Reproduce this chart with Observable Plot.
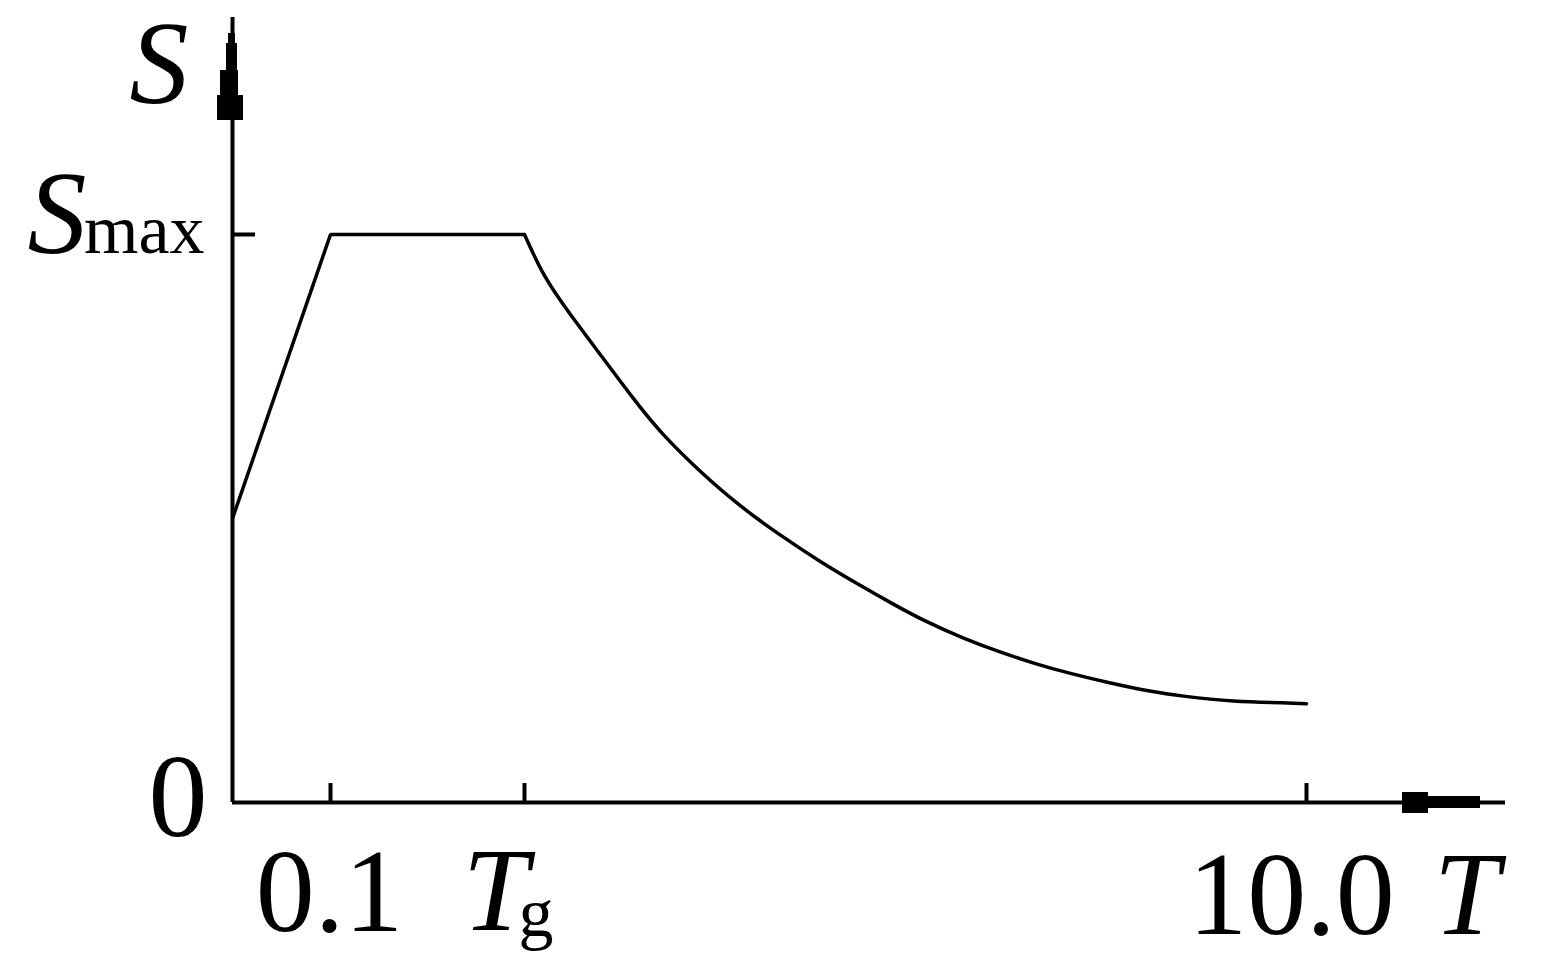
<!DOCTYPE html>
<html>
<head>
<meta charset="utf-8">
<script src="https://cdn.jsdelivr.net/npm/d3@7"></script>
<script src="https://cdn.jsdelivr.net/npm/@observablehq/plot@0.6"></script>
<style>
  html, body { margin: 0; padding: 0; background: #fff; }
  #chart svg { display: block; }
</style>
</head>
<body>
<div id="chart"></div>
<script>
// Schematic response spectrum (S normalised to Smax = 1)
const Tg = 0.5;
const Tend = 12.4;      // end of the T axis
const Stop = 1.382;     // top of the S axis
// rising branch and plateau
const risePeriods = [0, 0.1, Tg];
const riseValues = [0.50, 1.0, 1.0];
// descending branch
const decayPeriods = [Tg, 0.73, 1.02, 1.42, 1.82, 2.15, 2.64, 3.12, 3.61, 4.10, 4.58, 4.98, 5.35, 5.83, 6.25, 6.73, 7.13, 7.62, 8.11, 8.51, 9.04, 10.0];
const decayValues = [1.0, 0.926, 0.866, 0.789, 0.711, 0.651, 0.581, 0.521, 0.470, 0.423, 0.382, 0.349, 0.320, 0.289, 0.266, 0.243, 0.227, 0.210, 0.195, 0.187, 0.178, 0.174];
const xTicks = [0.1, Tg, 10.0];
const yTicks = [1];

const rise = risePeriods.map((t, i) => ({T: t, S: riseValues[i]}));
const decay = decayPeriods.map((t, i) => ({T: t, S: decayValues[i]}));

const font = "Liberation Serif, Times New Roman, serif";
const big = 118, small = 70;

const plot = Plot.plot({
  width: 1546,
  height: 960,
  style: {background: "#fff", fontFamily: font},
  x: {type: "linear", domain: [0, 0.1, Tg, 10, Tend], range: [232, 330, 524, 1306, 1505], axis: null},
  y: {type: "linear", domain: [0, Stop], range: [802, 17], axis: null},
  marks: [
    // axes
    Plot.ruleY([0], {x1: 0, x2: Tend, stroke: "#000", strokeWidth: 4}),
    Plot.ruleX([0], {y1: 0, y2: Stop, stroke: "#000", strokeWidth: 4}),
    // ticks
    Plot.ruleX(xTicks, {x: d => d, y1: 0, y2: 0, insetTop: -19, stroke: "#000", strokeWidth: 4}),
    Plot.ruleY(yTicks, {y: d => d, x1: 0, x2: 0, insetRight: -23, stroke: "#000", strokeWidth: 4}),
    // curve
    Plot.line(rise, {x: "T", y: "S", stroke: "#000", strokeWidth: 3.5, strokeLinejoin: "miter"}),
    Plot.line(decay, {x: "T", y: "S", stroke: "#000", strokeWidth: 3.5, curve: "basis"}),
    // x tick labels
    Plot.text([xTicks[0]], {x: d => d, y: 0, text: () => "0.1", textAnchor: "middle", lineAnchor: "bottom", dx: -1, dy: 128, fontSize: big, fill: "#000"}),
    Plot.text([xTicks[2]], {x: d => d, y: 0, text: () => "10.0", textAnchor: "middle", lineAnchor: "bottom", dx: -15, dy: 131, fontSize: big, fill: "#000"}),
    // T_g
    Plot.text([Tg], {x: d => d, y: 0, text: () => "T", textAnchor: "end", lineAnchor: "bottom", dx: 4, dy: 127, fontSize: big, fontStyle: "italic", fill: "#000"}),
    Plot.text([Tg], {x: d => d, y: 0, text: () => "g", textAnchor: "start", lineAnchor: "bottom", dx: -6, dy: 133, fontSize: small, fill: "#000"}),
    // T axis label
    Plot.text([Tend], {x: d => d, y: 0, text: () => "T", textAnchor: "end", lineAnchor: "bottom", dx: -6, dy: 131, fontSize: big, fontStyle: "italic", fill: "#000"}),
    // 0 label
    Plot.text([0], {x: 0, y: d => d, text: () => "0", textAnchor: "end", lineAnchor: "bottom", dx: -25, dy: 33, fontSize: big, fill: "#000"}),
    // S_max label
    Plot.text(yTicks, {x: 0, y: d => d, text: () => "S", textAnchor: "end", lineAnchor: "bottom", dx: -146, dy: 19, fontSize: big, fontStyle: "italic", fill: "#000"}),
    Plot.text(yTicks, {x: 0, y: d => d, text: () => "max", textAnchor: "end", lineAnchor: "bottom", dx: -28, dy: 19, fontSize: small, fill: "#000"}),
    // S axis label
    Plot.text([Stop], {x: 0, y: d => d, text: () => "S", textAnchor: "end", lineAnchor: "bottom", dx: -44, dy: 85, fontSize: big, fontStyle: "italic", fill: "#000"})
  ]
});

// arrow heads at the axis ends, placed through the scales
const sx = plot.scale("x"), sy = plot.scale("y");
const xe = sx.apply(Tend), y0 = sy.apply(0);
const x0 = sx.apply(0), yt = sy.apply(Stop);
const svg = d3.select(plot);
const g = svg.append("g").attr("fill", "#000");
g.append("rect").attr("x", xe - 103).attr("y", y0 - 10).attr("width", 26).attr("height", 21);
g.append("rect").attr("x", xe - 77).attr("y", y0 - 6).attr("width", 52).attr("height", 12);
const steps = [[16, 26, -4, 3], [26, 53, -6, 5], [53, 78, -12, 6], [78, 103, -15, 11]];
steps.forEach(([a, b, l, r]) => {
  g.append("rect").attr("x", x0 + l).attr("y", yt + a).attr("width", r - l).attr("height", b - a);
});

document.getElementById("chart").appendChild(plot);
</script>
</body>
</html>
